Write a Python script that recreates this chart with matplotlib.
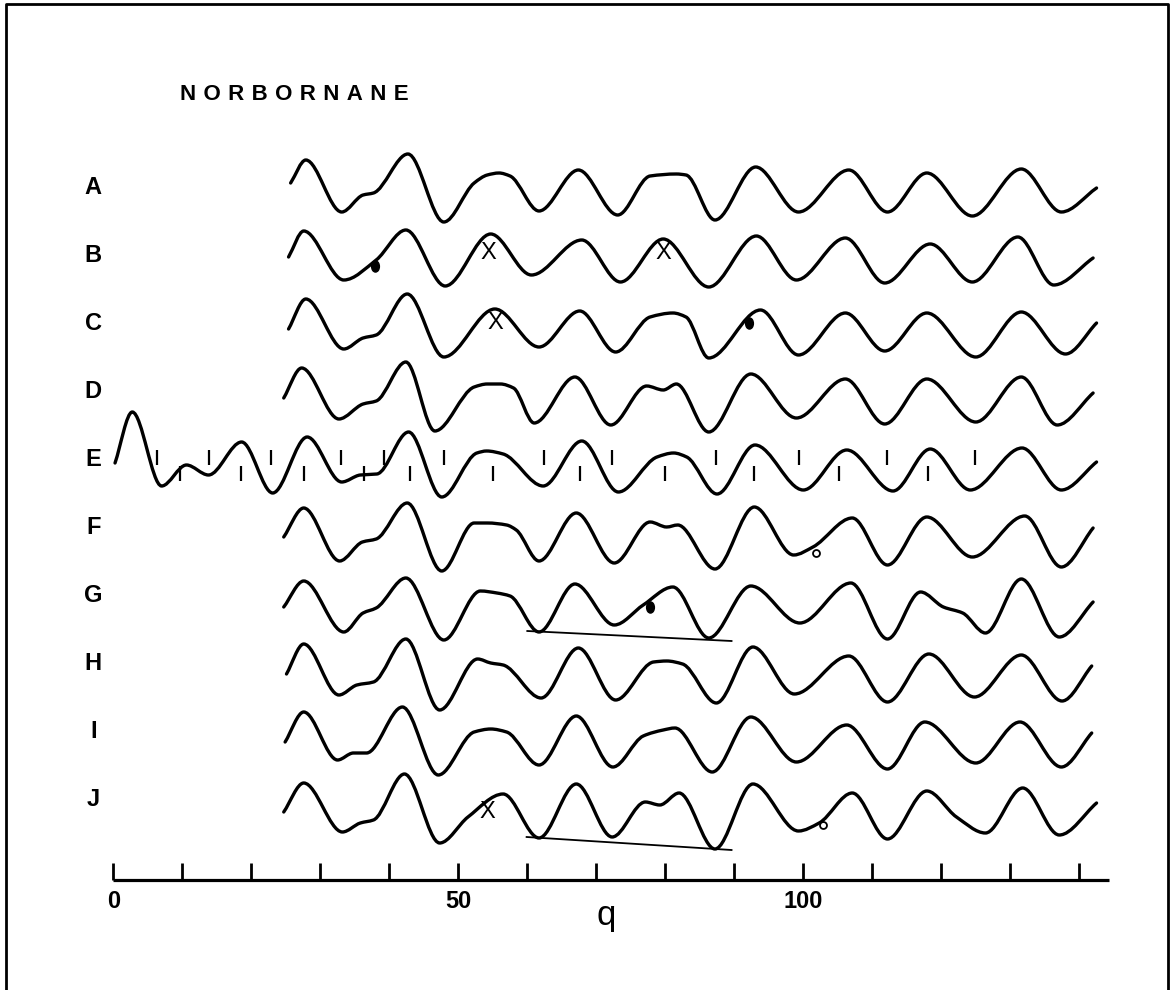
import numpy as np
import matplotlib
matplotlib.use('Agg')
import matplotlib.pyplot as plt
from matplotlib.path import Path
from matplotlib.patches import PathPatch
from matplotlib.transforms import Affine2D

# curves: q values and intensity (arbitrary units, up = positive)
labels = ['A', 'B', 'C', 'D', 'E', 'F', 'G', 'H', 'I', 'J']

q_A = [25.7, 27.9, 33.1, 36.2, 37.7, 42.7, 47.9, 52.3, 54.2, 55.9, 57.5, 61.7, 67.4, 73.1, 77.8, 81.6, 83.0,
       87.2, 93.1, 99.3, 106.6, 112.2, 117.9, 124.5, 131.6, 137.4, 142.5]
i_A = [2, 25, -27, -10, -8, 31, -37, 2, 10, 12, 9, -26, 15, -30, 9, 11, 10,
       -35, 18, -27, 15, -27, 12, -31, 16, -27, -3]

q_B = [25.4, 27.6, 33.4, 38.1, 42.4, 48.1, 54.7, 60.6, 67.9, 73.5, 79.7, 86.3, 93.2, 99.0, 106.1, 111.8,
       118.4, 124.5, 131.1, 136.3, 142.0]
i_B = [-5, 21, -28, -8, 22, -34, 18, -23, 12, -30, 13, -35, 16, -28, 14, -31,
       8, -30, 15, -33, -6]

q_C = [25.4, 27.9, 33.4, 36.2, 38.1, 42.6, 47.9, 55.3, 61.7, 67.6, 72.8, 77.8, 81.1, 83.0, 86.3, 93.8,
       99.3, 106.1, 111.8, 117.9, 125.0, 131.6, 138.0, 142.5]
i_C = [-9, 21, -29, -18, -15, 26, -37, 11, -27, 9, -32, 3, 7, 3, -38, 10,
       -35, 7, -31, 7, -37, 8, -34, -3]

q_D = [24.7, 27.3, 32.7, 36.2, 38.1, 42.4, 46.6, 52.3, 54.2, 56.1, 58.0, 61.0, 66.9, 72.1, 77.3, 79.7,
       81.6, 86.3, 92.4, 99.0, 106.1, 111.8, 117.9, 125.0, 131.6, 136.8, 142.0]
i_D = [-11, 19, -32, -17, -14, 25, -44, 0, 3, 3, -1, -36, 10, -38, 1, -3,
       3, -45, 13, -31, 8, -37, 8, -35, 10, -38, -6]

q_E = [0.25, 2.75, 7.0, 10.6, 13.8, 18.6, 23.1, 28.1, 33.1, 35.8, 38.2, 42.8, 47.6, 52.7, 54.1, 56.5,
       62.3, 67.9, 73.2, 78.8, 81.2, 83.1, 87.5, 93.0, 100.0, 106.3, 113.0, 118.4, 124.2, 131.7, 137.4, 142.5]
i_E = [-8, 43, -31, -10, -20, 13, -38, 18, -27, -20, -19, 23, -42, 2, 4, 1,
       -31, 14, -37, -2, 2, -2, -39, 10, -35, 5, -36, 6, -35, 7, -35, -7]

q_F = [24.7, 27.6, 32.8, 36.1, 38.1, 42.6, 47.6, 52.3, 54.2, 57.0, 58.4, 61.7, 67.1, 72.6, 77.8, 80.2,
       81.8, 87.2, 92.9, 98.6, 101.4, 107.1, 112.2, 117.9, 124.5, 132.1, 137.4, 142.0]
i_F = [-14, 15, -38, -19, -16, 20, -48, 0, 0, -2, -7, -38, 10, -40, 1, -4,
       -2, -46, 16, -32, -24, 5, -42, 6, -34, 7, -44, -5]

q_G = [24.7, 27.6, 33.4, 36.2, 38.1, 42.4, 47.9, 53.2, 55.6, 57.5, 61.7, 66.9, 72.6, 76.8, 81.1, 86.3,
       92.4, 99.5, 106.9, 112.2, 117.0, 120.3, 123.1, 126.4, 131.6, 137.1, 142.0]
i_G = [-15, 11, -40, -21, -16, 14, -48, 1, -1, -4, -40, 8, -33, -13, 5, -46,
       6, -31, 9, -47, 0, -15, -21, -41, 13, -45, -10]

q_H = [25.1, 27.6, 32.7, 35.3, 37.7, 42.4, 47.3, 52.8, 54.7, 56.5, 62.0, 67.4, 72.8, 78.3, 80.2, 82.5,
       87.4, 92.7, 98.7, 106.6, 112.2, 118.2, 124.8, 131.6, 137.5, 141.8]
i_H = [-14, 16, -35, -25, -22, 21, -50, 1, -3, -5, -38, 12, -40, -2, -1, -4,
       -43, 13, -34, 4, -42, 6, -37, 5, -41, -6]

q_I = [24.9, 27.6, 32.5, 34.8, 36.7, 41.9, 47.1, 52.3, 54.7, 57.0, 61.7, 67.1, 72.4, 76.8, 79.7, 81.4,
       86.8, 92.4, 99.0, 106.3, 112.2, 117.6, 125.0, 131.4, 137.4, 141.8]
i_I = [-15, 15, -33, -26, -26, 20, -48, -5, -2, -5, -38, 11, -40, -9, -3, -1,
       -45, 10, -35, 2, -42, 5, -36, 5, -40, -6]

q_J = [24.7, 27.6, 33.2, 35.8, 37.7, 42.2, 47.3, 51.4, 56.5, 61.7, 67.1, 72.3, 77.1, 79.2, 82.0, 87.2,
       92.7, 99.3, 102.3, 107.1, 112.2, 117.9, 122.2, 126.4, 131.8, 137.1, 142.5]
i_J = [-17, 12, -37, -28, -25, 21, -48, -22, 1, -43, 11, -42, -7, -10, 2, -54,
       11, -36, -28, 2, -44, 4, -22, -38, 7, -40, -8]

# positions of the theoretical max/min ticks on curve E
e_ticks_upper = [6.4, 13.8, 22.9, 33.0, 39.2, 47.9, 62.4, 72.3, 87.4, 99.4, 112.1, 124.9]
e_ticks_lower = [9.7, 18.5, 27.6, 36.3, 43.0, 55.0, 67.7, 80.0, 92.9, 105.2, 118.0]

# markers: (row, q, intensity)
x_marks = [('B', 54.4, -1), ('B', 79.7, -1), ('C', 55.3, -3), ('J', 54.2, -17)]
dot_marks = [('B', 37.9, -14), ('C', 92.2, -3), ('G', 77.8, -15)]
ring_marks = [('F', 101.9, -30), ('J', 102.8, -30)]
# straight lines drawn under G and J
base_lines = {'G': ([60.0, 89.6], [-39, -49]), 'J': ([59.9, 89.6], [-42, -55])}

axis_ticks = [0, 10, 20, 30, 40, 50, 60, 70, 80, 90, 100, 110, 120, 130, 140]
axis_labels = {0: '0', 50: '50', 100: '100'}

curves = dict(zip(labels, [(q_A, i_A), (q_B, i_B), (q_C, i_C), (q_D, i_D), (q_E, i_E),
                           (q_F, i_F), (q_G, i_G), (q_H, i_H), (q_I, i_I), (q_J, i_J)]))

# layout (vertical position of each trace, in pixel-like units from the top)
row_base = dict(zip(labels, [185, 252, 320, 387, 455, 523, 592, 660, 727, 795]))
label_y = dict(zip(labels, [187, 255, 323, 391, 459, 527, 596, 664, 732, 800]))


def smooth_path(q, v, base):
    x = np.asarray(q, float)
    y = base - np.asarray(v, float)
    h = np.diff(x)
    d = np.diff(y) / h
    m = np.zeros_like(x)
    for k in range(1, len(x) - 1):
        if d[k - 1] * d[k] > 0:
            w1 = 2 * h[k] + h[k - 1]
            w2 = h[k] + 2 * h[k - 1]
            m[k] = (w1 + w2) / (w1 / d[k - 1] + w2 / d[k])
    m[0] = d[0]
    m[-1] = d[-1]
    verts = [(x[0], y[0])]
    codes = [Path.MOVETO]
    for k in range(len(h)):
        verts += [(x[k] + h[k] / 3, y[k] + m[k] * h[k] / 3),
                  (x[k + 1] - h[k] / 3, y[k + 1] - m[k + 1] * h[k] / 3),
                  (x[k + 1], y[k + 1])]
        codes += [Path.CURVE4] * 3
    return Path(verts, codes)


W, H = 1174, 990
fig = plt.figure(figsize=(W / 100, H / 100), dpi=100)
ax = fig.add_axes([0, 0, 1, 1])
x0, scale = 113.3, 6.9  # pixel of q=0, pixels per q unit
ax.set_xlim(-x0 / scale, (W - x0) / scale)
ax.set_ylim(H, 0)
ax.axis('off')

lab_font = dict(family=['Liberation Sans', 'DejaVu Sans'], weight='bold')

for name in labels:
    q, v = curves[name]
    ax.add_patch(PathPatch(smooth_path(q, v, row_base[name]), fill=False, lw=2.4,
                           color='black', capstyle='round', joinstyle='round'))
    ax.text(-2.9, label_y[name], name, ha='center', va='center', fontsize=17, **lab_font)

b = row_base['E']
ax.vlines(e_ticks_upper, b - 5, b + 10, color='black', lw=1.6)
ax.vlines(e_ticks_lower, b + 11, b + 26, color='black', lw=1.6)

for name, (q, v) in base_lines.items():
    ax.plot(q, [row_base[name] - t for t in v], color='black', lw=1.3)

for name, q, v in x_marks:
    ax.text(q, row_base[name] - v, 'X', ha='center', va='center', fontsize=17,
            family=['Liberation Sans Narrow', 'Liberation Sans'])

ell = Path.unit_circle().transformed(Affine2D().scale(0.7, 1.0))
for name, q, v in dot_marks:
    ax.plot(q, row_base[name] - v, marker=ell, ms=8, color='black', ls='none')

for name, q, v in ring_marks:
    ax.plot(q, row_base[name] - v, marker='o', ms=5, mfc='white', mec='black', mew=1.3, ls='none')

# q axis
ax_y = 880
ax.plot([0, 144.3], [ax_y, ax_y], color='black', lw=2.3, solid_capstyle='butt')
ax.vlines(axis_ticks, ax_y - 17, ax_y, color='black', lw=2)
for t, s in axis_labels.items():
    ax.text(t, 902, s, ha='center', va='center', fontsize=17, **lab_font)
ax.text(71.5, 915, 'q', ha='center', va='center', fontsize=25, family='Liberation Sans')

ax.text(9.7, 95, '\u2004'.join('NORBORNANE'), ha='left', va='center', fontsize=16, **lab_font)

# frame around the figure
ax.plot([0.005, 0.005, 0.995, 0.995], [0, 0.996, 0.996, 0], transform=ax.transAxes,
        color='black', lw=2)

fig.savefig('out.png', dpi=100)
